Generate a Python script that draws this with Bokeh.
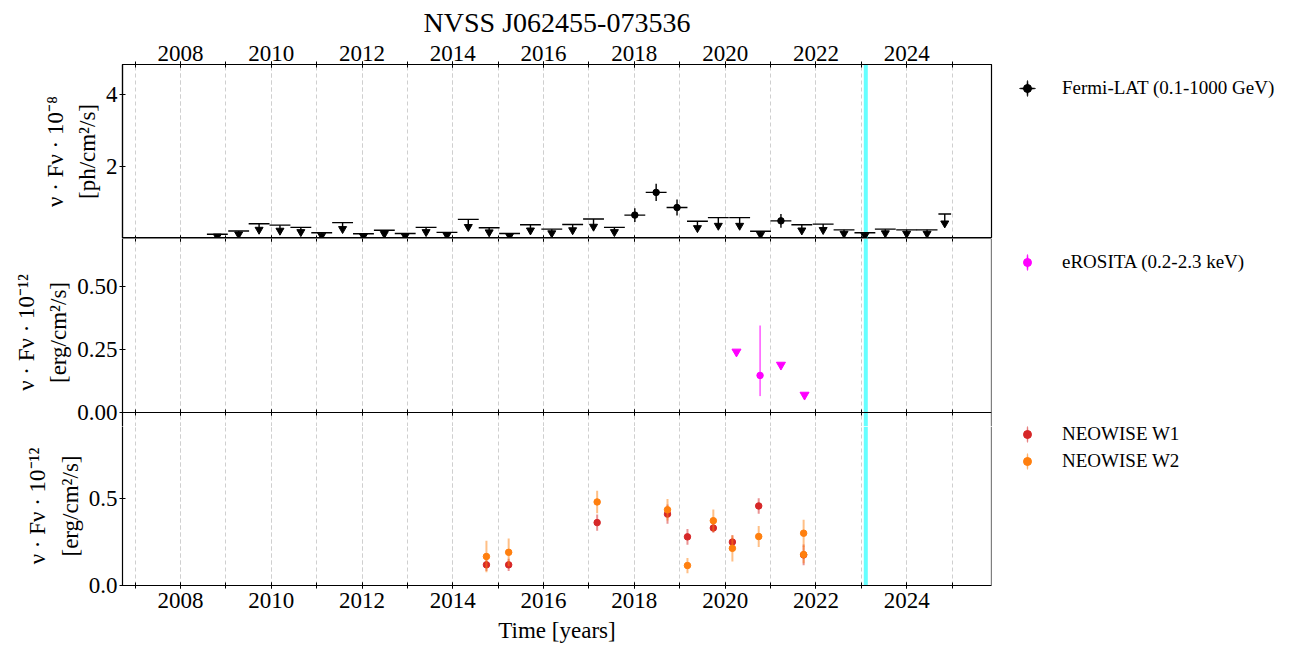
import numpy as np
from bokeh.plotting import figure
from bokeh.layouts import column, row
from bokeh.models import (Range1d, LinearAxis, FixedTicker, SingleIntervalTicker,
                          Span, Legend, LegendItem, ColumnDataSource, PrintfTickFormatter)
from bokeh.embed import file_html
from bokeh.resources import INLINE
from bokeh.core.properties import value

# ---------------- data ----------------
title_text = "NVSS J062455-073536"

# Fermi-LAT light curve (decimal years), flux in 1e-8 ph/cm2/s
fermi_time = [2008.81, 2009.28, 2009.73, 2010.19, 2010.65, 2011.11, 2011.57, 2012.03,
              2012.49, 2012.95, 2013.41, 2013.87, 2014.34, 2014.80, 2015.25, 2015.71,
              2016.18, 2016.64, 2017.10, 2017.56, 2018.01, 2018.48, 2018.94, 2019.39,
              2019.85, 2020.32, 2020.78, 2021.23, 2021.69, 2022.16, 2022.62, 2023.08,
              2023.53, 2024.00, 2024.45, 2024.84]
fermi_flux = [0.12, 0.21, 0.41, 0.37, 0.31, 0.16, 0.44, 0.13,
              0.23, 0.14, 0.31, 0.17, 0.53, 0.30, 0.14, 0.38,
              0.26, 0.39, 0.54, 0.31, 0.65, 1.28, 0.86, 0.48,
              0.58, 0.58, 0.20, 0.49, 0.38, 0.40, 0.24, 0.16,
              0.26, 0.24, 0.24, 0.68]
fermi_err = [0, 0, 0, 0, 0, 0, 0, 0,
             0, 0, 0, 0, 0, 0, 0, 0,
             0, 0, 0, 0, 0.19, 0.24, 0.22, 0,
             0, 0, 0, 0.19, 0, 0, 0, 0,
             0, 0, 0, 0]
fermi_is_ul = [1, 1, 1, 1, 1, 1, 1, 1,
               1, 1, 1, 1, 1, 1, 1, 1,
               1, 1, 1, 1, 0, 0, 0, 1,
               1, 1, 1, 0, 1, 1, 1, 1,
               1, 1, 1, 1]
fermi_halfbin = [0.23, 0.23, 0.23, 0.23, 0.23, 0.23, 0.23, 0.23,
                 0.23, 0.23, 0.23, 0.23, 0.23, 0.23, 0.23, 0.23,
                 0.23, 0.23, 0.23, 0.23, 0.23, 0.23, 0.23, 0.23,
                 0.23, 0.23, 0.23, 0.23, 0.23, 0.23, 0.23, 0.23,
                 0.23, 0.23, 0.23, 0.14]

# eROSITA (1e-12 erg/cm2/s)
ero_ul_time = [2020.25, 2021.23, 2021.75]
ero_ul_flux = [0.241, 0.189, 0.070]
ero_time = [2020.77]
ero_flux = [0.147]
ero_low = [0.065]
ero_high = [0.345]

# NEOWISE (1e-12 erg/cm2/s)
w1_time = [2014.74, 2015.23, 2017.18, 2018.73, 2019.17, 2019.74, 2020.16, 2020.74, 2021.73]
w1_flux = [0.119, 0.119, 0.362, 0.411, 0.280, 0.331, 0.250, 0.458, 0.176]
w1_err = [0.035, 0.035, 0.047, 0.055, 0.045, 0.027, 0.040, 0.045, 0.060]
w2_time = [2014.74, 2015.23, 2017.18, 2018.73, 2019.17, 2019.74, 2020.16, 2020.74, 2021.73, 2021.73]
w2_flux = [0.167, 0.191, 0.481, 0.436, 0.115, 0.373, 0.214, 0.282, 0.301, 0.178]
w2_err = [0.090, 0.080, 0.065, 0.062, 0.044, 0.064, 0.076, 0.060, 0.078, 0.050]

flare_time = 2023.10

legend_fermi = "Fermi-LAT (0.1-1000 GeV)"
legend_ero = "eROSITA (0.2-2.3 keV)"
legend_w1 = "NEOWISE W1"
legend_w2 = "NEOWISE W2"
xlabel = "Time [years]"
ylabels = ["ν · Fν · 10⁻⁸\n[ph/cm²/s]",
           "ν · Fν · 10⁻¹²\n[erg/cm²/s]",
           "ν · Fν · 10⁻¹²\n[erg/cm²/s]"]
y_top_max, y_mid_max, y_bot_max = 4.83, 0.69, 0.995

# ---------------- layout constants ----------------
FONT = "Liberation Serif"
BL = 122                 # left border (frame left edge)
FW = 869                 # frame width
PW = BL + FW + 2         # panel figure width
LW = 297                 # legend column width
H1, H2, H3 = 174, 174, 175
EXT = 14                 # middle panel extends below its zero line (room for "0.00")
TOP_B, BOT_B = 64, 58
XR = Range1d(2006.72, 2025.87)
xticker = SingleIntervalTicker(interval=2, num_minor_ticks=2)
W1C, W2C, ERC = "#d62728", "#ff7f0e", "#ff00ff"


def style_x(ax, labels, tin, tout, standoff=3):
    ax.ticker = xticker
    ax.major_tick_in = tin
    ax.major_tick_out = tout
    ax.minor_tick_in = tin
    ax.minor_tick_out = tout
    ax.axis_line_color = "black"
    ax.axis_line_width = 1.2
    ax.major_tick_line_color = "black"
    ax.minor_tick_line_color = "black"
    ax.major_label_text_font = FONT
    ax.major_label_text_font_size = "23px"
    ax.major_label_text_color = "black" if labels else None
    ax.major_label_standoff = standoff if labels else 0


def right_edge(p):
    ax = LinearAxis(fixed_location=XR.end, ticker=FixedTicker(ticks=[]))
    ax.axis_line_color = "black"
    ax.axis_line_width = 1.2
    ax.major_label_text_color = None
    ax.major_tick_line_color = None
    ax.minor_tick_line_color = None
    p.add_layout(ax, "right")


def make_fig(height, top_b, bot_b, y0, y1, yticks, fmt, ylabel, outline=True):
    p = figure(width=PW, height=height, x_range=XR, y_range=Range1d(y0, y1),
               output_backend="svg", toolbar_location=None,
               min_border_left=BL, min_border_right=2,
               min_border_top=top_b, min_border_bottom=bot_b)
    p.title.visible = False
    p.ygrid.visible = False
    p.xgrid.ticker = xticker
    p.xgrid.grid_line_color = "#cfcfcf"
    p.xgrid.grid_line_dash = "4 3"
    p.xgrid.minor_grid_line_color = "#cfcfcf"
    p.xgrid.minor_grid_line_dash = "4 3"
    if outline:
        p.outline_line_color = "black"
        p.outline_line_width = 1.2
        p.outline_line_alpha = 1
    else:
        p.outline_line_color = None
        right_edge(p)
    ya = p.yaxis[0]
    ya.ticker = FixedTicker(ticks=yticks)
    if fmt is not None:
        ya.formatter = PrintfTickFormatter(format=fmt)
    ya.major_tick_in = 3
    ya.major_tick_out = 3
    ya.minor_tick_line_color = None
    ya.axis_line_color = "black"
    ya.axis_line_width = 1.2
    ya.major_label_text_font = FONT
    ya.major_label_text_font_size = "23px"
    ya.major_label_text_color = "black"
    ya.major_label_standoff = 2
    ya.axis_label = ylabel
    ya.axis_label_text_font = FONT
    ya.axis_label_text_font_size = "23px"
    ya.axis_label_text_font_style = "normal"
    ya.axis_label_text_color = "black"
    ya.axis_label_text_line_height = 1.3
    ya.axis_label_standoff = 3
    span = Span(location=flare_time, dimension="height", line_color="#00ffff",
                line_alpha=0.6, line_width=4, level="underlay")
    p.add_layout(span)
    return p


def legend_fig(height, top_b, bot_b, groups):
    """groups: list of (items_spec, item-centre distance from frame top);
    items_spec: list of (label, color, err_alpha, cross)."""
    lf = figure(width=LW, height=height, x_range=Range1d(0, 1), y_range=Range1d(0, 1),
                output_backend="svg", toolbar_location=None,
                min_border_left=0, min_border_right=0,
                min_border_top=top_b, min_border_bottom=bot_b)
    lf.title.visible = False
    lf.axis.visible = False
    lf.grid.visible = False
    lf.outline_line_color = None
    frame_h = height - top_b - bot_b
    for items_spec, center_from_frame_top in groups:
        items = []
        for label, color, alpha, cross in items_spec:
            nan = dict(x=[np.nan], y=[np.nan])
            rs = []
            if cross:
                rs.append(lf.ellipse(x="x", y="y", width=20, height=1.6, width_units="screen",
                                     height_units="screen", source=ColumnDataSource(nan),
                                     fill_color=color, line_color=color, line_width=0.6,
                                     fill_alpha=alpha, line_alpha=alpha))
            rs.append(lf.ellipse(x="x", y="y", width=1.6, height=20, width_units="screen",
                                 height_units="screen", source=ColumnDataSource(nan),
                                 fill_color=color, line_color=color, line_width=0.6,
                                 fill_alpha=alpha, line_alpha=alpha))
            rs.append(lf.scatter(x="x", y="y", marker="circle", size=6,
                                 source=ColumnDataSource(nan), fill_color=color, line_color=color))
            items.append(LegendItem(label=value(label), renderers=rs))
        n = len(items)
        h = n * 20 + (n - 1) * 5
        leg = Legend(items=items, location=(24, frame_h - (center_from_frame_top - 10) - h),
                     padding=0, margin=0, border_line_alpha=0, background_fill_alpha=0,
                     glyph_width=20, glyph_height=20, label_height=20, label_standoff=25,
                     spacing=5, label_text_font=FONT, label_text_font_size="19px",
                     label_text_color="black")
        lf.add_layout(leg)
    return lf


# ---------------- panel 1: Fermi ----------------
p1 = make_fig(TOP_B + H1, TOP_B, 0, 0, y_top_max, [2, 4], None, ylabels[0])
p1.title.visible = True
p1.title.text = title_text
p1.title.align = "center"
p1.title.text_font = FONT
p1.title.text_font_size = "28px"
p1.title.text_font_style = "normal"
p1.title.text_color = "black"
p1.title.text_line_height = 0.7
p1.title.standoff = 9
p1.title.offset = 0
ax = p1.xaxis[0]
style_x(ax, False, 3, 0)
ax.fixed_location = 0
top_ax = LinearAxis()
style_x(top_ax, True, 3, 3, standoff=1)
p1.add_layout(top_ax, "above")

ft = np.array(fermi_time)
ff = np.array(fermi_flux)
fe = np.array(fermi_err)
fh = np.array(fermi_halfbin)
ul = np.array(fermi_is_ul) == 1
det = ~ul
arrow = 0.35 * ff + 0.02

p1.segment(x0=ft - fh, x1=ft + fh, y0=ff, y1=ff, line_color="black", line_width=1.4)
p1.segment(x0=ft[ul], x1=ft[ul], y0=ff[ul], y1=(ff - arrow)[ul], line_color="black", line_width=1.4)
p1.scatter(x=ft[ul], y=(ff - arrow)[ul], marker="inverted_triangle", size=8,
           fill_color="black", line_color="black")
p1.segment(x0=ft[det], x1=ft[det], y0=(ff - fe)[det], y1=(ff + fe)[det],
           line_color="black", line_width=1.4)
p1.scatter(x=ft[det], y=ff[det], marker="circle", size=6.5, fill_color="black", line_color="black")

# ---------------- panel 2: eROSITA ----------------
mid_lo = -EXT * y_mid_max / H2
p2 = make_fig(H2 + EXT, 0, 0, mid_lo, y_mid_max, [0, 0.25, 0.5], "%.2f", ylabels[1], outline=False)
ax = p2.xaxis[0]
style_x(ax, False, 3, 3)
ax.fixed_location = 0
ta2 = LinearAxis(fixed_location=y_mid_max)
style_x(ta2, False, 3, 0)
p2.add_layout(ta2, "above")

p2.segment(x0=ero_time, x1=ero_time, y0=ero_low, y1=ero_high, line_color=ERC, line_width=1)
p2.scatter(x=ero_time, y=ero_flux, marker="circle", size=6.5, fill_color=ERC, line_color=ERC)
p2.scatter(x=ero_ul_time, y=ero_ul_flux, marker="inverted_triangle", size=9,
           fill_color=ERC, line_color=ERC)

# ---------------- panel 3: NEOWISE ----------------
H3v = H3 - EXT
bot_hi = y_bot_max * H3v / H3
p3 = make_fig(H3v + BOT_B, 0, BOT_B, 0, bot_hi, [0, 0.5], "%.1f", ylabels[2], outline=False)
ax = p3.xaxis[0]
style_x(ax, True, 3, 3, standoff=4)
ax.axis_label = xlabel
ax.axis_label_text_font = FONT
ax.axis_label_text_font_size = "23px"
ax.axis_label_text_font_style = "normal"
ax.axis_label_text_color = "black"
ax.axis_label_standoff = 7

w1t, w1f, w1e = np.array(w1_time), np.array(w1_flux), np.array(w1_err)
w2t, w2f, w2e = np.array(w2_time), np.array(w2_flux), np.array(w2_err)
p3.segment(x0=w1t, x1=w1t, y0=w1f - w1e, y1=w1f + w1e, line_color=W1C, line_alpha=0.5, line_width=2)
p3.scatter(x=w1t, y=w1f, marker="circle", size=6.5, fill_color=W1C, line_color=W1C)
p3.segment(x0=w2t, x1=w2t, y0=w2f - w2e, y1=w2f + w2e, line_color=W2C, line_alpha=0.5, line_width=2)
p3.scatter(x=w2t, y=w2f, marker="circle", size=6.5, fill_color=W2C, line_color=W2C)

# ---------------- legends (right column) ----------------
l1 = legend_fig(TOP_B + H1, TOP_B, 0, [([(legend_fermi, "black", 1.0, True)], 25)])
l23 = legend_fig(H2 + EXT + H3v + BOT_B, 0, BOT_B,
                 [([(legend_ero, ERC, 1.0, False)], 25),
                  ([(legend_w1, W1C, 0.5, False), (legend_w2, W2C, 0.5, False)], H2 + 25)])

layout = row(column(p1, p2, p3), column(l1, l23))
open("out.html", "w").write(file_html(layout, INLINE))
